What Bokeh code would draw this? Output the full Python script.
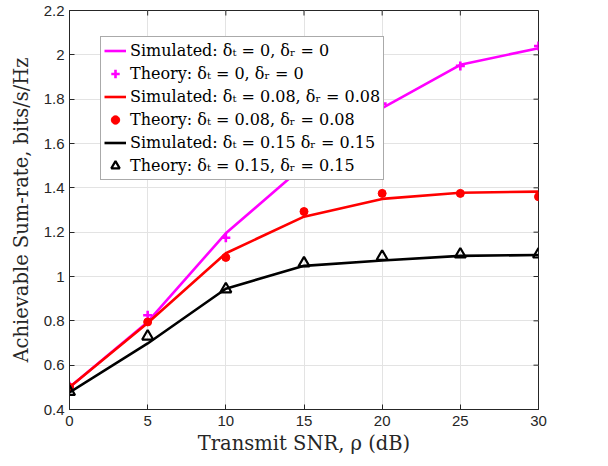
from bokeh.plotting import figure
from bokeh.models import FixedTicker, Legend, LegendItem, Range1d
from bokeh.embed import file_html
from bokeh.resources import INLINE

snr = [0, 5, 10, 15, 20, 25, 30]
sim_0 = [0.50, 0.795, 1.195, 1.50, 1.76, 1.955, 2.03]
thy_0 = [0.505, 0.825, 1.175, 1.52, 1.78, 1.95, 2.04]
sim_08 = [0.50, 0.79, 1.105, 1.27, 1.35, 1.378, 1.383]
thy_08 = [0.50, 0.795, 1.086, 1.293, 1.375, 1.375, 1.36]
sim_15 = [0.477, 0.698, 0.945, 1.048, 1.072, 1.093, 1.097]
thy_15 = [0.48, 0.73, 0.943, 1.06, 1.09, 1.10, 1.10]

x_ticks = [0, 5, 10, 15, 20, 25, 30]
y_ticks = [0.4, 0.6, 0.8, 1, 1.2, 1.4, 1.6, 1.8, 2, 2.2]
labels = [
    "Simulated: δₜ = 0, δᵣ = 0",
    "Theory: δₜ = 0, δᵣ = 0",
    "Simulated: δₜ = 0.08, δᵣ = 0.08",
    "Theory: δₜ = 0.08, δᵣ = 0.08",
    "Simulated: δₜ = 0.15 δᵣ = 0.15",
    "Theory: δₜ = 0.15, δᵣ = 0.15",
]

AX = "#262626"
p = figure(width=608, height=466, output_backend="svg", toolbar_location=None,
           x_range=Range1d(0, 30), y_range=Range1d(0.4, 2.2),
           min_border_left=69, min_border_right=70, min_border_top=10,
           min_border_bottom=57, x_axis_label="Transmit SNR, ρ (dB)",
           y_axis_label="Achievable Sum-rate, bits/s/Hz")
p.outline_line_color = AX
p.background_fill_color = "white"
p.border_fill_color = "white"

for ax in p.xaxis + p.yaxis:
    ax.axis_line_color = AX
    ax.major_tick_line_color = AX
    ax.major_tick_in = 5
    ax.major_tick_out = 0
    ax.minor_tick_line_color = None
    ax.major_label_text_font = "Liberation Sans"
    ax.major_label_text_font_size = "15px"
    ax.major_label_text_color = AX
    ax.axis_label_text_font = "DejaVu Serif"
    ax.axis_label_text_font_size = "19.5px"
    ax.axis_label_text_font_style = "normal"
    ax.axis_label_text_color = AX
p.xaxis.ticker = FixedTicker(ticks=x_ticks)
p.yaxis.ticker = FixedTicker(ticks=y_ticks)
p.yaxis.major_label_overrides = {1: "1", 2: "2"}
p.xaxis.major_label_standoff = 6
p.yaxis.major_label_standoff = 5
p.xaxis.axis_label_standoff = 3
p.yaxis.axis_label_standoff = 8

p.xgrid.ticker = FixedTicker(ticks=x_ticks)
p.ygrid.ticker = FixedTicker(ticks=y_ticks)
p.grid.grid_line_color = "#e3e3e3"
p.grid.grid_line_width = 1

# box ticks on top and right (inward), clipped to frame
p.scatter(x_ticks, [2.2] * len(x_ticks), marker="dash", angle=1.5708, size=10,
          line_color=AX, line_width=1)
p.scatter([30] * len(y_ticks), y_ticks, marker="dash", size=10,
          line_color=AX, line_width=1)

lw = 2.6
r1 = p.line(snr, sim_0, line_color="#ff00ff", line_width=lw)
r2 = p.scatter(snr, thy_0, marker="cross", size=9, line_color="#ff00ff", line_width=2.6)
r3 = p.line(snr, sim_08, line_color="#ff0000", line_width=lw)
r4 = p.scatter(snr, thy_08, marker="circle", size=8, fill_color="#ff0000", line_color="#ff0000")
r5 = p.line(snr, sim_15, line_color="black", line_width=lw)
r6 = p.scatter(snr, thy_15, marker="triangle", size=11, fill_alpha=0, line_color="black", line_width=2.2)

items = [LegendItem(label=l, renderers=[r]) for l, r in zip(labels, [r1, r2, r3, r4, r5, r6])]
legend = Legend(items=items, location=(31, 229), label_text_font="DejaVu Serif",
                label_text_font_size="16px", label_text_color="black",
                glyph_width=22, glyph_height=21, label_height=21, label_standoff=4,
                spacing=2, padding=3, margin=0, border_line_color="#555555",
                border_line_width=1, background_fill_alpha=1)
p.add_layout(legend, "center")

open("out.html", "w").write(file_html(p, INLINE))
